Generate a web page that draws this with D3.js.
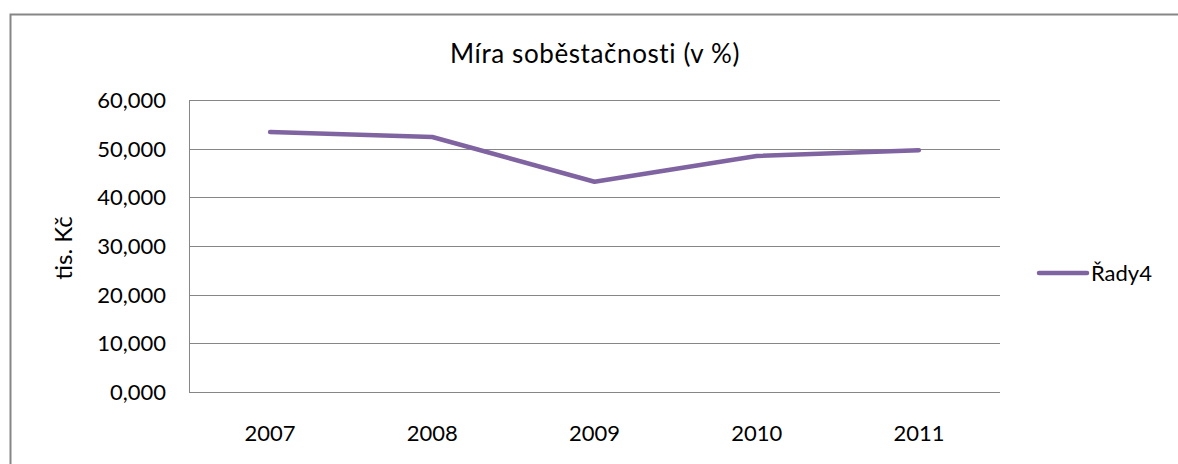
<!DOCTYPE html>
<html>
<head>
<meta charset="utf-8">
<script src="https://cdn.jsdelivr.net/npm/d3@7"></script>
<style>
  body { margin: 0; background: #fff; }
  svg { display: block; font-family: Lato, "Open Sans", sans-serif; }
</style>
</head>
<body>
<svg id="graf" width="1178" height="464"></svg>
<script>
'use strict';

// Data
const roky = ["2007", "2008", "2009", "2010", "2011"];
const hodnoty = [53.4, 52.4, 43.2, 48.5, 49.7];
const tickyY = [0, 10, 20, 30, 40, 50, 60];
const nazevRady = "Řady4";

const svg = d3.select("#graf");

// Outer chart frame (runs past the picture on the right and bottom)
svg.append("rect")
    .attr("x", 10.5).attr("y", 14.5)
    .attr("width", 1200).attr("height", 500)
    .attr("fill", "#fff")
    .attr("stroke", "#868686")
    .attr("stroke-width", 2);

const plot = { left: 189, top: 100, right: 1000, bottom: 392 };

const x = d3.scaleBand()
    .domain(roky)
    .range([plot.left, plot.right]);

const y = d3.scaleLinear()
    .domain([0, 60])
    .range([plot.bottom, plot.top]);

// Gridlines
svg.append("g")
    .selectAll("line")
    .data(tickyY)
    .join("line")
    .attr("x1", plot.left).attr("x2", plot.right)
    .attr("y1", d => Math.round(y(d)) + 0.5)
    .attr("y2", d => Math.round(y(d)) + 0.5)
    .attr("stroke", "#868686")
    .attr("stroke-width", 1);

// Vertical axis line
svg.append("line")
    .attr("x1", plot.left + 0.5).attr("x2", plot.left + 0.5)
    .attr("y1", plot.top).attr("y2", plot.bottom + 1)
    .attr("stroke", "#868686");

// Y tick labels
const formatCz = d => d3.format(".3f")(d).replace(".", ",");
svg.append("g")
    .selectAll("text")
    .data(tickyY)
    .join("text")
    .attr("x", 166)
    .attr("y", d => y(d))
    .attr("dy", "0.36em")
    .attr("text-anchor", "end")
    .attr("font-size", 22)
    .attr("fill", "#000")
    .text(formatCz);

// X tick labels
svg.append("g")
    .selectAll("text")
    .data(roky)
    .join("text")
    .attr("x", d => x(d) + x.bandwidth() / 2)
    .attr("y", 441)
    .attr("text-anchor", "middle")
    .attr("font-size", 22)
    .attr("fill", "#000")
    .text(d => d);

// Series line
const linka = d3.line()
    .x((d, i) => x(roky[i]) + x.bandwidth() / 2)
    .y(d => y(d));

svg.append("path")
    .datum(hodnoty)
    .attr("d", linka)
    .attr("fill", "none")
    .attr("stroke", "#8064A2")
    .attr("stroke-width", 4.5)
    .attr("stroke-linejoin", "round")
    .attr("stroke-linecap", "round");

// Title
svg.append("text")
    .attr("x", 595)
    .attr("y", 63)
    .attr("text-anchor", "middle")
    .attr("font-size", 26)
    .attr("letter-spacing", 0.6)
    .attr("fill", "#000")
    .text("Míra soběstačnosti (v %)");

// Y axis title
svg.append("text")
    .attr("transform", "translate(72,248) rotate(-90)")
    .attr("text-anchor", "middle")
    .attr("font-size", 24)
    .attr("fill", "#000")
    .text("tis. Kč");

// Legend
const legenda = svg.append("g");
legenda.append("line")
    .attr("x1", 1039).attr("x2", 1087)
    .attr("y1", 273).attr("y2", 273)
    .attr("stroke", "#8064A2")
    .attr("stroke-width", 4.5)
    .attr("stroke-linecap", "round");
legenda.append("text")
    .attr("x", 1091)
    .attr("y", 273)
    .attr("dy", "0.36em")
    .attr("font-size", 22)
    .attr("fill", "#000")
    .text(nazevRady);
</script>
</body>
</html>
